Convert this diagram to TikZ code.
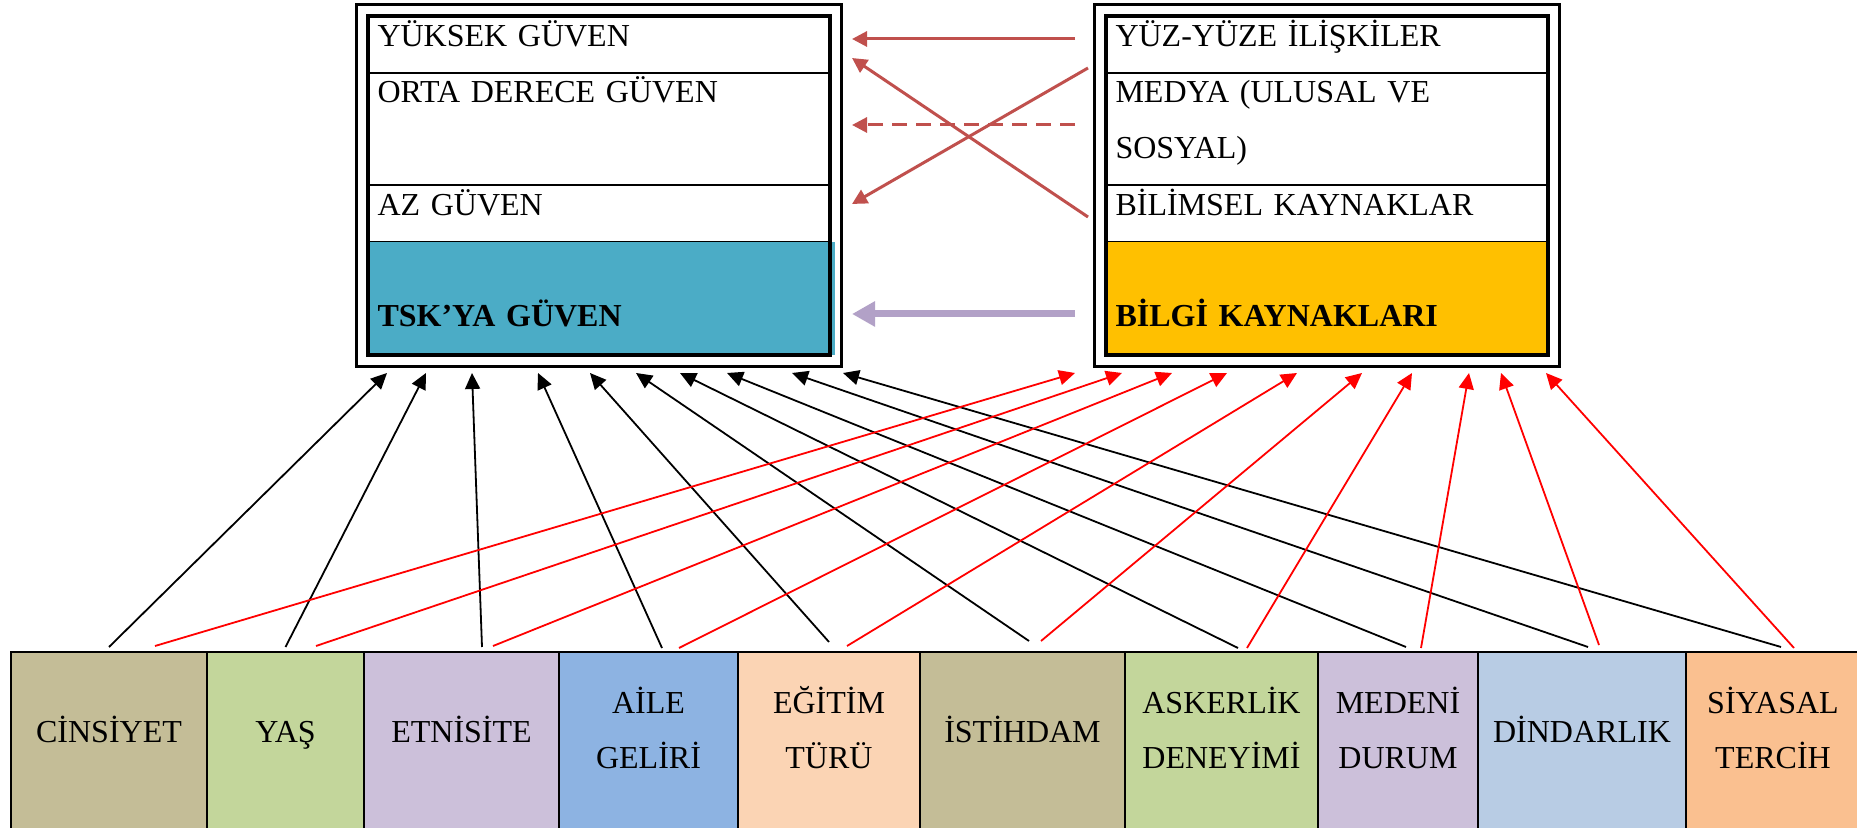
\documentclass[tikz,border=0pt]{standalone}
\usepackage{fontspec}
\setmainfont{Liberation Serif}
\usetikzlibrary{arrows.meta,positioning,fit,calc,matrix}

\definecolor{kum}{HTML}{C4BD97}
\definecolor{yesil}{HTML}{C3D69B}
\definecolor{lila}{HTML}{CCC0DA}
\definecolor{mavi}{HTML}{8DB3E2}
\definecolor{seftali}{HTML}{FBD4B4}
\definecolor{acikmavi}{HTML}{B8CCE4}
\definecolor{turuncu}{HTML}{FAC090}
\definecolor{camgobegi}{HTML}{4BACC6}
\definecolor{altin}{HTML}{FFC000}
\definecolor{kiremit}{HTML}{C0504D}
\definecolor{mor}{HTML}{B2A1C7}

\tikzset{
hucre/.style={draw, line width=1.6pt, rectangle, anchor=north west, outer sep=0pt,
  inner xsep=9.5pt, inner ysep=0pt, align=left, font=\fontsize{32}{56}\selectfont},
tekli/.style={text height=31pt, text depth=26pt},
genis/.style={text height=30pt, text depth=82pt},
baslik/.style={draw=none, text height=85pt, text depth=28pt,
  font={\fontsize{32}{56}\selectfont\bfseries}},
cerceve/.style={draw, line width=3.5pt, inner sep=0pt, outer sep=0pt},
dis/.style={draw, line width=2.5pt, inner sep=11.5pt, outer sep=0pt},
etken/.style={draw, line width=2pt, outer sep=0pt, anchor=north, align=center,
  inner ysep=0pt, font=\fontsize{32}{55}\selectfont, text height=90pt, text depth=95pt},
ikisatir/.style={text height=116pt, text depth=69pt},
siyahok/.style={-{Triangle[length=16pt,width=15pt]}, line width=1.8pt, black},
kirmiziok/.style={-{Triangle[length=16pt,width=15pt]}, line width=1.8pt, red},
iliski/.style={-{Triangle[length=15pt,width=15pt]}, line width=3pt, kiremit},
guvenok/.style={-{Triangle[length=23pt,width=24pt]}, line width=7pt, mor}
}

\begin{document}
\begin{tikzpicture}[x=1pt,y=1pt]
\useasboundingbox (0,0) rectangle (1857,827);

\node[hucre, tekli, text width=443pt] (yuksek) at (368,811) {YÜKSEK GÜVEN};
\node[hucre, genis, text width=443pt] (orta) at (yuksek.south west) {ORTA DERECE GÜVEN};
\node[hucre, tekli, text width=443pt] (az) at (orta.south west) {AZ GÜVEN};
\node[hucre, baslik, fill=camgobegi, text width=448pt] (tsk) at (az.south west) {TSK’YA GÜVEN};
\node[cerceve, fit=(yuksek)(tsk.south west)] (guvenic) {};
\node[dis, fit=(guvenic)] (guven) {};

\node[hucre, tekli, text width=423pt] (yuz) at (1106,811) {YÜZ-YÜZE İLİŞKİLER};
\node[hucre, genis, text width=423pt] (medya) at (yuz.south west) {MEDYA (ULUSAL VE\\SOSYAL)};
\node[hucre, tekli, text width=423pt] (bilimsel) at (medya.south west) {BİLİMSEL KAYNAKLAR};
\node[hucre, baslik, fill=altin, text width=423pt] (bilgi) at (bilimsel.south west) {BİLGİ KAYNAKLARI};
\node[cerceve, fit=(yuz)(bilgi)] (bilgiic) {};
\node[dis, fit=(bilgiic)] (kaynak) {};

\matrix (etkenler) [anchor=north west, column sep=-2pt, inner sep=0pt, outer sep=0pt] at (10,176)
{
\node[etken, fill=kum, minimum width=196pt] (cins) {CİNSİYET}; &
\node[etken, fill=yesil, minimum width=157pt] (yas) {YAŞ}; &
\node[etken, fill=lila, minimum width=195pt] (etni) {ETNİSİTE}; &
\node[etken, ikisatir, fill=mavi, minimum width=179pt] (aile) {AİLE\\GELİRİ}; &
\node[etken, ikisatir, fill=seftali, minimum width=182pt] (egitim) {EĞİTİM\\TÜRÜ}; &
\node[etken, fill=kum, minimum width=205pt] (istihdam) {İSTİHDAM}; &
\node[etken, ikisatir, fill=yesil, minimum width=193pt] (asker) {ASKERLİK\\DENEYİMİ}; &
\node[etken, ikisatir, fill=lila, minimum width=160pt] (medeni) {MEDENİ\\DURUM}; &
\node[etken, fill=acikmavi, minimum width=208pt] (din) {DİNDARLIK}; &
\node[etken, ikisatir, fill=turuncu, minimum width=174pt] (siyasal) {SİYASAL\\TERCİH}; \\
};

\draw[iliski] ($(yuz.west)+(-31,5.5)$) -- ($(yuksek.east)+(22,5.5)$);
\draw[iliski] ($(bilimsel.west)+(-18,-3.5)$) -- ($(yuksek.east)+(22,-13.5)$);
\draw[iliski, dash pattern=on 15pt off 9pt] ($(medya.west)+(-31,4)$) -- ($(orta.east)+(22,4)$);
\draw[iliski] ($(yuz.west)+(-18,-23.5)$) -- ($(az.east)+(22,9.5)$);
\draw[guvenok] ($(bilgi.west)+(-31,-15.5)$) -- ($(tsk.east)+(17,-15.5)$);

\draw[siyahok] ($(cins.north)+(0,5)$) -- ($(guven.south)+(-212,-6.5)$);
\draw[siyahok] ($(yas.north)+(0,5)$) -- ($(guven.south)+(-173,-6.5)$);
\draw[siyahok] ($(etni.north)+(20.5,5)$) -- ($(guven.south)+(-127,-6.5)$);
\draw[siyahok] ($(aile.north)+(13.5,4)$) -- ($(guven.south)+(-61,-6.5)$);
\draw[siyahok] ($(egitim.north)+(0,10)$) -- ($(guven.south)+(-9,-6.5)$);
\draw[siyahok] ($(istihdam.north)+(6.5,11)$) -- ($(guven.south)+(37,-6.5)$);
\draw[siyahok] ($(asker.north)+(16.5,4)$) -- ($(guven.south)+(81,-6.5)$);
\draw[siyahok] ($(medeni.north)+(8,5)$) -- ($(guven.south)+(128,-6.5)$);
\draw[siyahok] ($(din.north)+(6,5)$) -- ($(guven.south)+(193,-6.5)$);
\draw[siyahok] ($(siyasal.north)+(8,5)$) -- ($(guven.south)+(244,-6.5)$);

\draw[kirmiziok] ($(cins.north)+(46,6)$) -- ($(kaynak.south)+(-252,-6.5)$);
\draw[kirmiziok] ($(yas.north)+(30.5,6)$) -- ($(kaynak.south)+(-205,-6.5)$);
\draw[kirmiziok] ($(etni.north)+(31.5,6)$) -- ($(kaynak.south)+(-155,-6.5)$);
\draw[kirmiziok] ($(aile.north)+(30.5,4)$) -- ($(kaynak.south)+(-100,-6.5)$);
\draw[kirmiziok] ($(egitim.north)+(18,6)$) -- ($(kaynak.south)+(-30,-6.5)$);
\draw[kirmiziok] ($(istihdam.north)+(18.5,11)$) -- ($(kaynak.south)+(35,-6.5)$);
\draw[kirmiziok] ($(asker.north)+(25.5,4)$) -- ($(kaynak.south)+(85,-6.5)$);
\draw[kirmiziok] ($(medeni.north)+(23,4)$) -- ($(kaynak.south)+(142,-6.5)$);
\draw[kirmiziok] ($(din.north)+(17,7)$) -- ($(kaynak.south)+(174,-6.5)$);
\draw[kirmiziok] ($(siyasal.north)+(21,4)$) -- ($(kaynak.south)+(219,-6.5)$);
\end{tikzpicture}
\end{document}
